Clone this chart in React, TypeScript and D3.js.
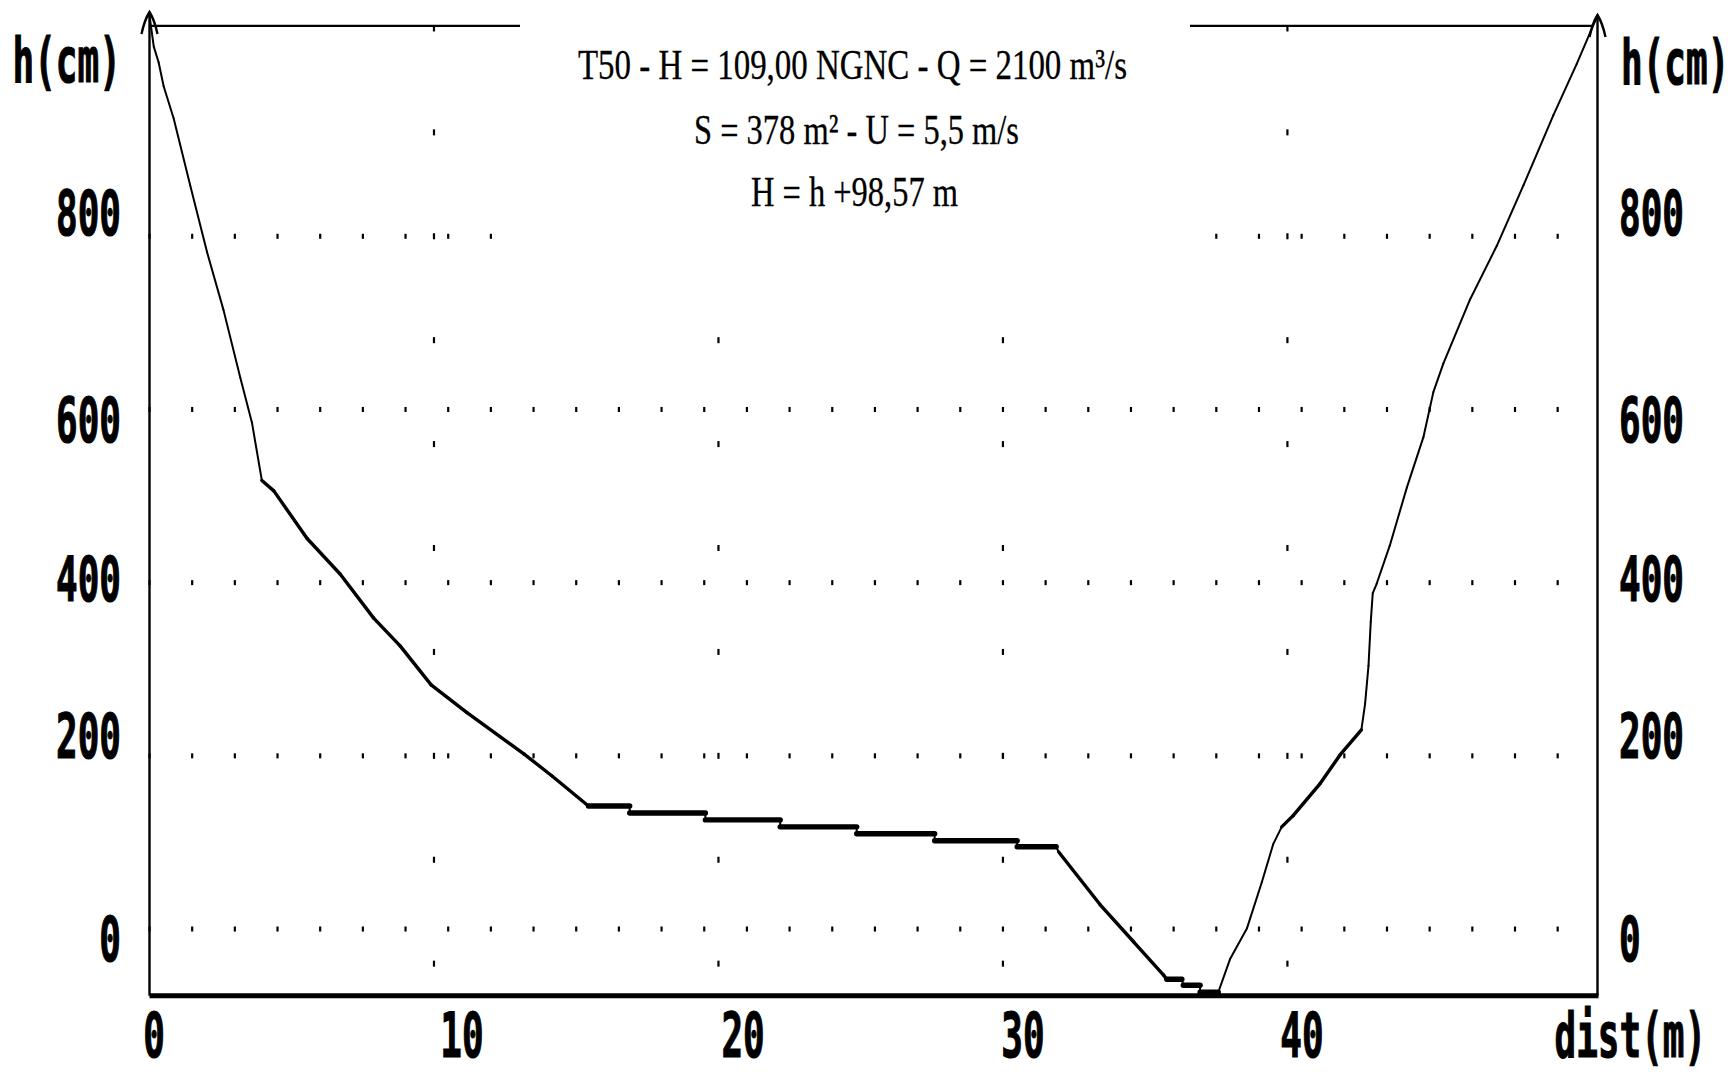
import React from "react";
import * as d3 from "d3";

// River cross-section T50: bed profile, distance from the left bank (m) and height h (cm)
const profileDist = [
  0, 0.15, 0.32, 0.5, 0.85, 1.43, 2.02, 2.6, 3.19, 3.6, 3.95,
  4.37, 5.54, 6.7, 7.88, 8.81, 9.9, 11.16, 13.17, 14.14, 15.43,
  16.88, 16.88, 19.54, 19.54, 22.17, 22.17, 24.86, 24.86, 27.6, 27.6,
  30.5, 30.5, 31.87,
  31.96, 33.42, 34.6, 35.64, 35.76, 36.29, 36.34, 36.93, 36.93, 37.57,
  37.98, 38.58, 39.1, 39.5, 39.8, 40.2, 41.15, 41.85, 42.6, 42.73,
  42.85, 42.93, 43.0, 43.14, 43.6, 44.2, 44.78, 45.13, 45.48, 46.42,
  47.36, 48.3, 49.35, 50.17, 50.9,
];
const profileH = [
  1055, 1019, 1001, 973, 936, 859, 782, 715, 637, 585, 518,
  506, 451, 410, 359, 327, 282, 250, 202, 177, 142,
  142, 134, 134, 126, 126, 118, 118, 110, 110, 102,
  102, 95, 95,
  89, 28, -15, -53, -58, -58, -65, -65, -73, -73,
  -35, 1, 54, 98, 118, 131, 168, 201, 230, 260,
  304, 355, 388, 399, 443, 510, 568, 620, 653, 727,
  789, 859, 940, 999, 1055,
];

// Grid: dotted rows of h (cm) and dotted columns of distance (m)
const rowLevels = [0, 200, 400, 600, 800];
const columnDists = [10, 20, 30, 40];
const xTickValues = [0, 10, 20, 30, 40];

// Hydraulic figures of the section
const returnPeriod = "T50";
const waterLevelNGNC = 109.0; // m NGNC
const discharge = 2100; // m3/s
const wettedArea = 378; // m2
const meanVelocity = 5.5; // m/s
const datumNGNC = 98.57; // H = h + datum (m)

const comma = (v: number, digits: number) => v.toFixed(digits).replace(".", ",");

// Layout tweaks for the bitmap-style axis labels
const yLabelShift: Record<number, number> = { 0: 9.5, 200: -20, 400: -4, 600: 10, 800: -23.7 };
const xLabelShift: Record<number, number> = { 0: 4.5, 10: 28, 20: 24.6, 30: 20, 40: 14.5 };

const DOS_FONT = "'DejaVu Sans Mono', 'Liberation Mono', monospace";
const SERIF_FONT = "'Liberation Serif', 'Times New Roman', serif";
const DOS_SIZE = 36;
const DOS_STRETCH = 1.72;

export default function App() {
  const W = 1728;
  const H = 1072;
  const x = d3.scaleLinear().domain([0, 50.9]).range([149.5, 1597.5]);
  const y = d3.scaleLinear().domain([-77, 1059]).range([995.7, 12]);

  const pts = profileDist.map((d, i) => [x(d), y(profileH[i])] as [number, number]);
  const segs = d3.pairs(pts).map(([a, b]) => {
    const dx = Math.abs(b[0] - a[0]);
    const dy = Math.abs(b[1] - a[1]);
    const slope = dx < 0.5 ? Infinity : dy / dx;
    const w = slope < 0.2 ? 5.4 : slope < 1.8 ? 3.4 : 2;
    return { a, b, w };
  });

  // Water surface from the stated level
  const hw = (waterLevelNGNC - datumNGNC) * 100;
  const cross = (i: number) => {
    const t = (hw - profileH[i]) / (profileH[i + 1] - profileH[i]);
    return profileDist[i] + t * (profileDist[i + 1] - profileDist[i]);
  };
  let leftI = 0;
  while (leftI < profileH.length - 1 && !(profileH[leftI] >= hw && profileH[leftI + 1] < hw)) leftI++;
  let rightI = profileH.length - 2;
  while (rightI > 0 && !(profileH[rightI] < hw && profileH[rightI + 1] >= hw)) rightI--;
  const wl0 = cross(leftI);
  const wl1 = cross(rightI);

  const rowDots = d3.range(0, 50, 1.5);
  const colDots = d3.range(-40, 1041, 120);

  const xL = x(0);
  const xR = x(50.9);
  const yB = y(-77);
  const yT = y(1059);

  const arrow = (ax: number) =>
    `M${ax - 8},${yT + 22} Q${ax - 5},${yT + 8} ${ax},${yT} Q${ax + 5},${yT + 8} ${ax + 8},${yT + 22}`;

  // Tall, narrow bold label in the style of a screen bitmap font
  const dosText = (txt: string, tx: number, ty: number, anchor: string = "start") => (
    <text
      transform={`translate(${tx},${ty}) scale(1,${DOS_STRETCH})`}
      textAnchor={anchor}
      fontFamily={DOS_FONT}
      fontWeight="bold"
      fontSize={DOS_SIZE}
      fill="#000"
      stroke="#000"
      strokeWidth={0.7}
    >
      {txt}
    </text>
  );

  const line1 = `${returnPeriod} - H = ${comma(waterLevelNGNC, 2)} NGNC - Q = ${discharge} m³/s`;
  const line2 = `S = ${wettedArea} m² - U = ${comma(meanVelocity, 1)} m/s`;
  const line3 = `H = h +${comma(datumNGNC, 2)} m`;

  const bottomBaseline = 1057;

  return (
    <svg
      width={W}
      height={H}
      viewBox={`0 0 ${W} ${H}`}
      style={{ position: "fixed", left: 0, top: 0, background: "#fff" }}
    >
      <rect x={0} y={0} width={W} height={H} fill="#fff" />

      {/* dotted grid rows */}
      {rowLevels.map((lv) =>
        rowDots.map((d) => (
          <rect key={`r${lv}-${d}`} x={x(d) - 1.1} y={y(lv) - 2.5} width={2.2} height={5} fill="#000" />
        ))
      )}
      {/* dotted grid columns */}
      {columnDists.map((cd) =>
        colDots.map((lv) => (
          <rect key={`c${cd}-${lv}`} x={x(cd) - 1.1} y={y(lv) - 3} width={2.2} height={6} fill="#000" />
        ))
      )}

      {/* water surface */}
      <line x1={x(wl0)} x2={x(wl1)} y1={y(hw)} y2={y(hw)} stroke="#000" strokeWidth={2.3} />

      {/* caption block */}
      <rect x={520} y={0} width={670} height={250} fill="#fff" />
      <text x={578} y={79} fontFamily={SERIF_FONT} fontSize={42} textLength={549} lengthAdjust="spacingAndGlyphs" fill="#000" stroke="#000" strokeWidth={0.3}>
        {line1}
      </text>
      <text x={694} y={143.5} fontFamily={SERIF_FONT} fontSize={42} textLength={325} lengthAdjust="spacingAndGlyphs" fill="#000" stroke="#000" strokeWidth={0.3}>
        {line2}
      </text>
      <text x={751} y={205.5} fontFamily={SERIF_FONT} fontSize={42} textLength={207} lengthAdjust="spacingAndGlyphs" fill="#000" stroke="#000" strokeWidth={0.3}>
        {line3}
      </text>

      {/* bed profile */}
      {segs.map((s, i) => (
        <line
          key={`p${i}`}
          x1={s.a[0]}
          y1={s.a[1]}
          x2={s.b[0]}
          y2={s.b[1]}
          stroke="#000"
          strokeWidth={s.w}
          strokeLinecap="round"
        />
      ))}

      {/* axes */}
      <line x1={xL} x2={xL} y1={yT} y2={yB} stroke="#000" strokeWidth={2.4} />
      <line x1={xR} x2={xR} y1={yT + 3} y2={yB} stroke="#000" strokeWidth={2.4} />
      <line x1={xL} x2={xR + 1} y1={yB} y2={yB} stroke="#000" strokeWidth={5} />
      <path d={arrow(xL)} fill="none" stroke="#000" strokeWidth={2.4} />
      <path d={arrow(xR)} transform="translate(0,3)" fill="none" stroke="#000" strokeWidth={2.4} />

      {/* axis labels */}
      {rowLevels.map((lv) => (
        <g key={`yl${lv}`}>
          {dosText(String(lv), 121, y(lv) + yLabelShift[lv] + 22.5, "end")}
          {dosText(String(lv), 1619, y(lv) + yLabelShift[lv] + 22.5, "start")}
        </g>
      ))}
      {xTickValues.map((v) => (
        <g key={`xl${v}`}>{dosText(String(v), x(v) + xLabelShift[v], bottomBaseline, "middle")}</g>
      ))}
      {dosText("h(cm)", 12.5, 82)}
      {dosText("h(cm)", 1621, 84)}
      {dosText("dist(m)", 1554.5, bottomBaseline)}
    </svg>
  );
}
